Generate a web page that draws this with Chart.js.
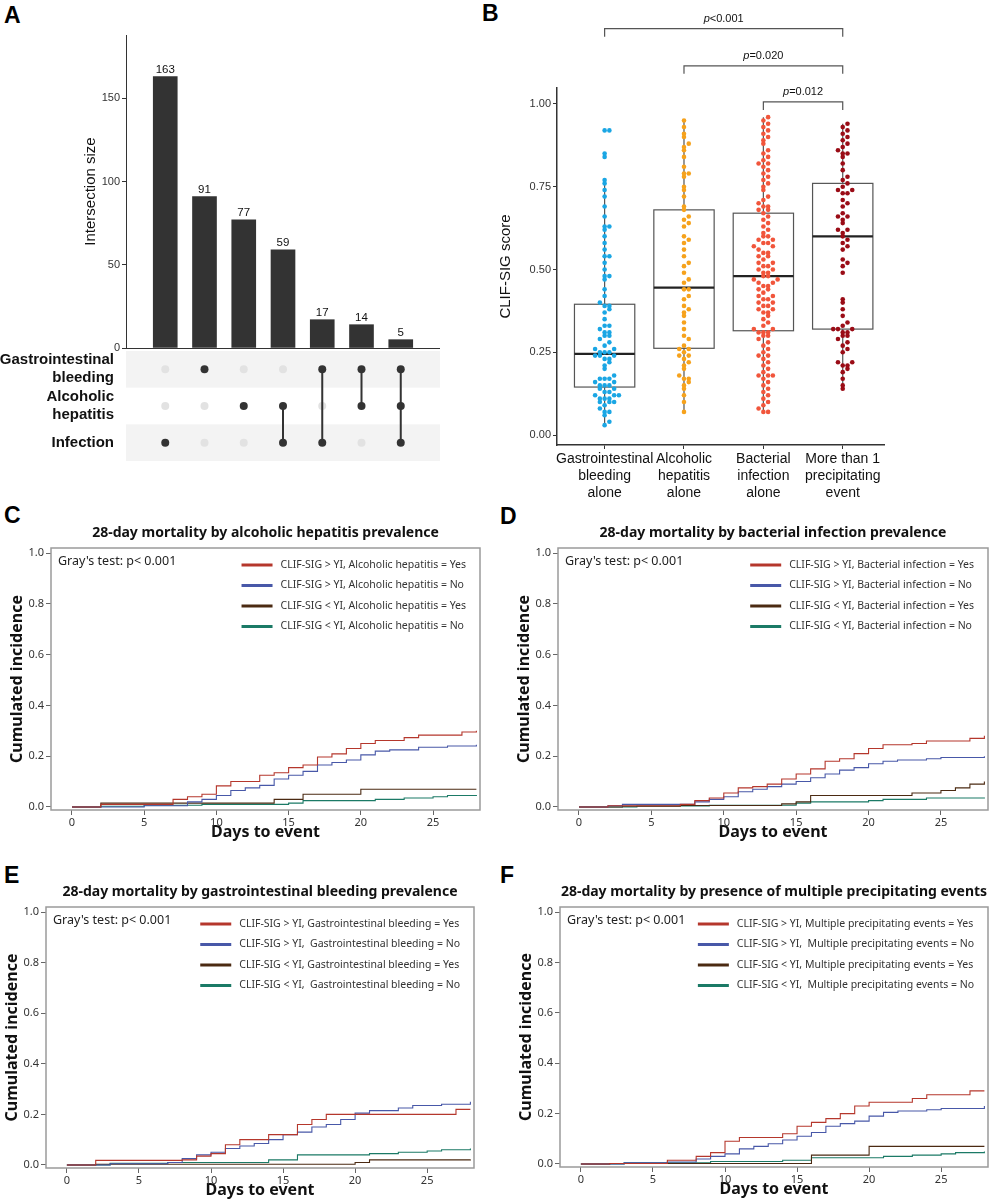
<!DOCTYPE html>
<html><head><meta charset="utf-8">
<script src="https://cdn.jsdelivr.net/npm/chart.js@4.4.1/dist/chart.umd.min.js"></script>
<style>
body{margin:0;background:#fff;width:989px;height:1200px;position:relative;overflow:hidden}
canvas{position:absolute;left:0;top:0}
.lab{position:absolute;font:bold 23px "Liberation Sans",Arial,sans-serif;color:#000}
</style></head><body>
<div class="lab" style="left:4px;top:2px">A</div>
<div class="lab" style="left:482px;top:0px">B</div>
<div class="lab" style="left:4px;top:502px">C</div>
<div class="lab" style="left:500px;top:503px">D</div>
<div class="lab" style="left:4px;top:862px">E</div>
<div class="lab" style="left:500px;top:862px">F</div>
<script>
// ---------- DATA ----------
const upsetSizes = [163, 91, 77, 59, 17, 14, 5];
const upsetSets = ["Gastrointestinal\nbleeding", "Alcoholic\nhepatitis", "Infection"];
// membership per column: rows 0=GI,1=AH,2=Infection
const upsetMembers = [[2],[0],[1],[1,2],[0,2],[0,1],[0,1,2]];
const upsetTicks = [0, 50, 100, 150];

const boxCategories = [["Gastrointestinal","bleeding","alone"],["Alcoholic","hepatitis","alone"],["Bacterial","infection","alone"],["More than 1","precipitating","event"]];
const boxQ1 = [0.145, 0.262, 0.315, 0.32];
const boxMedian = [0.245, 0.445, 0.48, 0.60];
const boxQ3 = [0.395, 0.68, 0.67, 0.76];
const boxWhiskLo = [0.03, 0.07, 0.07, 0.14];
const boxWhiskHi = [0.77, 0.95, 0.96, 0.94];
const boxTicks = [0, 0.25, 0.5, 0.75, 1.0];
const ptsGI = [0.03,0.04,0.06,0.07,0.07,0.08,0.09,0.10,0.10,0.10,0.11,0.11,0.11,0.12,0.12,0.12,0.13,0.13,0.14,0.14,0.15,0.15,0.15,0.16,0.16,0.17,0.17,0.17,0.18,0.20,0.21,0.22,0.23,0.23,0.24,0.24,0.24,0.25,0.25,0.25,0.26,0.26,0.27,0.28,0.29,0.30,0.30,0.31,0.31,0.32,0.33,0.33,0.35,0.37,0.38,0.39,0.39,0.40,0.42,0.44,0.47,0.48,0.48,0.50,0.52,0.54,0.54,0.56,0.58,0.60,0.62,0.63,0.63,0.66,0.69,0.72,0.74,0.76,0.77,0.84,0.85,0.92,0.92];
const ptsAH = [0.07,0.10,0.12,0.14,0.15,0.16,0.17,0.17,0.18,0.20,0.21,0.22,0.23,0.24,0.24,0.25,0.26,0.26,0.27,0.29,0.30,0.32,0.34,0.36,0.37,0.38,0.39,0.41,0.42,0.44,0.44,0.46,0.47,0.49,0.51,0.52,0.54,0.56,0.58,0.59,0.60,0.63,0.64,0.65,0.66,0.68,0.69,0.72,0.74,0.75,0.78,0.79,0.79,0.81,0.84,0.86,0.87,0.88,0.90,0.91,0.93,0.95];
const ptsBI = [0.07,0.07,0.08,0.09,0.10,0.11,0.12,0.13,0.14,0.15,0.16,0.17,0.18,0.18,0.18,0.19,0.20,0.21,0.22,0.23,0.24,0.24,0.25,0.26,0.27,0.28,0.29,0.30,0.30,0.31,0.31,0.31,0.32,0.32,0.33,0.34,0.35,0.36,0.37,0.37,0.38,0.38,0.39,0.39,0.40,0.40,0.41,0.41,0.42,0.42,0.43,0.44,0.44,0.45,0.45,0.46,0.46,0.47,0.47,0.48,0.48,0.49,0.49,0.50,0.50,0.51,0.51,0.52,0.52,0.53,0.54,0.54,0.55,0.55,0.56,0.57,0.57,0.58,0.58,0.59,0.59,0.60,0.60,0.61,0.62,0.63,0.64,0.65,0.66,0.67,0.68,0.68,0.69,0.69,0.70,0.71,0.72,0.74,0.75,0.76,0.77,0.78,0.79,0.80,0.81,0.82,0.82,0.83,0.84,0.85,0.86,0.88,0.89,0.90,0.91,0.92,0.93,0.94,0.95,0.96];
const ptsMulti = [0.14,0.15,0.17,0.19,0.20,0.21,0.21,0.22,0.22,0.25,0.26,0.27,0.28,0.29,0.30,0.30,0.31,0.31,0.32,0.32,0.32,0.33,0.34,0.36,0.38,0.40,0.41,0.49,0.51,0.52,0.53,0.56,0.57,0.58,0.59,0.60,0.61,0.62,0.62,0.64,0.65,0.66,0.66,0.67,0.69,0.70,0.71,0.73,0.73,0.74,0.74,0.75,0.76,0.77,0.78,0.80,0.82,0.84,0.85,0.85,0.86,0.87,0.88,0.89,0.90,0.91,0.92,0.93,0.94];
const pLabels = ["<0.001", "=0.020", "=0.012"];
const pFrom = [0, 1, 2], pTo = [3, 3, 3];
const pLevel = [1.227, 1.115, 1.006];

const kmDays = [0, 5, 10, 15, 20, 25];
const kmTicks = [0, 0.2, 0.4, 0.6, 0.8, 1.0];
// [day, cumulative incidence] at each step
const C_red   = [[2,0.01],[7,0.03],[8,0.04],[9,0.05],[10,0.083],[11,0.10],[13,0.125],[14,0.135],[15,0.155],[16,0.165],[17,0.197],[18,0.209],[19,0.23],[20,0.25],[21,0.262],[23,0.273],[24,0.283],[27,0.295],[28,0.30]];
const C_blue  = [[5,0.005],[8,0.02],[9,0.03],[10,0.045],[11,0.065],[12,0.075],[13,0.085],[14,0.11],[15,0.125],[16,0.14],[17,0.165],[18,0.175],[19,0.185],[20,0.205],[21,0.22],[22,0.225],[24,0.235],[26,0.24],[28,0.245]];
const C_brown = [[2,0.015],[14,0.03],[16,0.05],[20,0.07],[28,0.07]];
const C_green = [[2,0.003],[5,0.007],[9,0.01],[15,0.015],[16,0.025],[21,0.03],[23,0.035],[25,0.04],[26,0.045],[28,0.047]];
const D_red   = [[2,0.005],[7,0.01],[8,0.025],[9,0.035],[10,0.055],[11,0.075],[12,0.08],[13,0.09],[14,0.11],[15,0.13],[16,0.15],[17,0.18],[18,0.19],[19,0.21],[20,0.23],[21,0.245],[23,0.25],[24,0.26],[27,0.27],[28,0.28]];
const D_blue  = [[2,0.005],[3,0.01],[8,0.02],[9,0.03],[10,0.04],[11,0.06],[12,0.07],[13,0.08],[14,0.09],[15,0.10],[16,0.115],[17,0.13],[18,0.145],[19,0.155],[20,0.17],[21,0.18],[22,0.185],[24,0.19],[25,0.195],[28,0.20]];
const D_brown = [[3,0.003],[7,0.006],[14,0.012],[15,0.02],[16,0.045],[23,0.055],[25,0.065],[26,0.075],[27,0.09],[28,0.10]];
const D_green = [[4,0.004],[9,0.007],[15,0.015],[16,0.02],[20,0.025],[21,0.03],[24,0.035],[28,0.037]];
const E_red   = [[2,0.018],[8,0.02],[9,0.035],[10,0.045],[11,0.08],[12,0.10],[14,0.12],[16,0.16],[17,0.18],[18,0.20],[27,0.22],[28,0.22]];
const E_blue  = [[3,0.005],[7,0.01],[8,0.025],[9,0.04],[10,0.05],[11,0.065],[12,0.075],[13,0.085],[14,0.10],[15,0.12],[16,0.13],[17,0.15],[18,0.16],[19,0.18],[20,0.205],[21,0.215],[23,0.225],[24,0.235],[26,0.24],[28,0.25]];
const E_brown = [[2,0.003],[20,0.01],[21,0.02],[28,0.022]];
const E_green = [[3,0.007],[7,0.01],[14,0.02],[16,0.04],[21,0.045],[23,0.05],[25,0.055],[26,0.06],[28,0.065]];
const F_red   = [[2,0.002],[6,0.015],[8,0.03],[9,0.045],[10,0.09],[11,0.105],[14,0.12],[15,0.15],[16,0.165],[17,0.18],[18,0.20],[19,0.23],[20,0.245],[23,0.26],[24,0.275],[27,0.29],[28,0.29]];
const F_blue  = [[3,0.005],[6,0.008],[8,0.02],[9,0.03],[10,0.04],[11,0.06],[12,0.07],[13,0.08],[14,0.095],[15,0.11],[16,0.125],[17,0.15],[18,0.16],[19,0.17],[20,0.19],[21,0.205],[22,0.21],[24,0.215],[25,0.22],[28,0.23]];
const F_brown = [[2,0.002],[16,0.035],[20,0.07],[28,0.07]];
const F_green = [[3,0.005],[9,0.01],[14,0.015],[16,0.025],[21,0.03],[23,0.035],[25,0.04],[26,0.045],[28,0.05]];
const kmTitles = ["28-day mortality by alcoholic hepatitis prevalence","28-day mortality by bacterial infection prevalence","28-day mortality by gastrointestinal bleeding prevalence","28-day mortality by presence of multiple precipitating events"];
const kmLegends = [
 ["CLIF-SIG > YI, Alcoholic hepatitis = Yes","CLIF-SIG > YI, Alcoholic hepatitis = No","CLIF-SIG < YI, Alcoholic hepatitis = Yes","CLIF-SIG < YI, Alcoholic hepatitis = No"],
 ["CLIF-SIG > YI, Bacterial infection = Yes","CLIF-SIG > YI, Bacterial infection = No","CLIF-SIG < YI, Bacterial infection = Yes","CLIF-SIG < YI, Bacterial infection = No"],
 ["CLIF-SIG > YI, Gastrointestinal bleeding = Yes","CLIF-SIG > YI,  Gastrointestinal bleeding = No","CLIF-SIG < YI, Gastrointestinal bleeding = Yes","CLIF-SIG < YI,  Gastrointestinal bleeding = No"],
 ["CLIF-SIG > YI, Multiple precipitating events = Yes","CLIF-SIG > YI,  Multiple precipitating events = No","CLIF-SIG < YI, Multiple precipitating events = Yes","CLIF-SIG < YI,  Multiple precipitating events = No"]];
const grayText = "Gray's test: p< 0.001";

// ---------- HELPERS ----------
const PW = 989, PH = 1200;
const ARIAL = '"Liberation Sans", Arial, sans-serif';
const NOTO = '"Noto Sans", "Open Sans", sans-serif';
function make(cfg, area, yW, xH) {
  const c = document.createElement('canvas');
  c.width = PW; c.height = PH; c.style.width = PW + 'px'; c.style.height = PH + 'px';
  document.body.appendChild(c);
  cfg.options = cfg.options || {};
  Object.assign(cfg.options, {responsive:false, animation:false, devicePixelRatio:1,
    layout:{padding:{left:area.l - yW, top:area.t, right:PW - area.r, bottom:PH - area.b - xH}}});
  cfg.options.plugins = Object.assign({legend:{display:false}, title:{display:false}, tooltip:{enabled:false}}, cfg.options.plugins || {});
  const sc = cfg.options.scales;
  if (sc.y) sc.y.afterFit = s => { s.width = yW; };
  if (sc.x) sc.x.afterFit = s => { s.height = xH; };
  return new Chart(c, cfg);
}
const setTicks = arr => s => { s.ticks = arr.map(v => ({value: v})); };

// ---------- PANEL A: bars ----------
make({
  type:'bar',
  data:{datasets:[{data:upsetSizes.map((v,i)=>({x:i,y:v})), backgroundColor:'#333', barThickness:24}]},
  options:{
    scales:{
      x:{type:'linear', min:-1, max:7, offset:false, display:false},
      y:{min:0, max:188, afterBuildTicks:setTicks(upsetTicks),
         ticks:{font:{family:ARIAL,size:11}, color:'#333', padding:2},
         grid:{drawOnChartArea:false, tickLength:4, color:'#333'},
         border:{color:'#333', width:1},
         title:{display:true, text:'Intersection size', font:{family:ARIAL,size:15}, color:'#111', padding:0}}
    }
  },
  plugins:[{id:'vals', afterDatasetsDraw(ch){
    const ctx = ch.ctx, m = ch.getDatasetMeta(0);
    ctx.save(); ctx.font = '11.5px ' + ARIAL; ctx.fillStyle = '#111'; ctx.textAlign = 'center'; ctx.textBaseline = 'bottom';
    m.data.forEach((b,i)=>ctx.fillText(String(upsetSizes[i]), b.x, b.y - 1));
    ctx.strokeStyle = '#333'; ctx.lineWidth = 1; ctx.beginPath();
    ctx.moveTo(ch.chartArea.left, ch.chartArea.bottom + 0.5); ctx.lineTo(ch.chartArea.right, ch.chartArea.bottom + 0.5); ctx.stroke();
    ctx.restore();
  }}]
}, {l:126, r:440, t:35, b:348}, 44, 0);

// ---------- PANEL A: matrix ----------
(function(){
  const pts = [], cols = [];
  upsetMembers.forEach((mem, i) => {
    for (let r = 0; r < 3; r++) { pts.push({x:i, y:r}); cols.push(mem.includes(r) ? '#333' : '#e2e2e2'); }
  });
  const lines = upsetMembers.filter(m => m.length > 1).map(m => {
    const i = upsetMembers.indexOf(m);
    return {type:'line', data:[{x:i,y:Math.min(...m)},{x:i,y:Math.max(...m)}], borderColor:'#333', borderWidth:2, pointRadius:0};
  });
  make({
    type:'scatter',
    data:{datasets:[...lines, {data:pts, pointRadius:4, pointBackgroundColor:cols, pointBorderWidth:0}]},
    options:{
      scales:{
        x:{type:'linear', min:-1, max:7, display:false},
        y:{type:'linear', min:-0.5, max:2.5, reverse:true, afterBuildTicks:setTicks([0,1,2]),
           ticks:{callback:v=>upsetSets[v].split('\n'), font:{family:ARIAL,size:15,weight:'bold'}, color:'#111', padding:4, crossAlign:'near'},
           grid:{display:false}, border:{display:false}}
      }
    },
    plugins:[{id:'bands', beforeDatasetsDraw(ch){
      const ctx = ch.ctx, a = ch.chartArea, y = ch.scales.y;
      ctx.save(); ctx.fillStyle = '#f3f3f3';
      [0,2].forEach(r => { const t = y.getPixelForValue(r - 0.5), b = y.getPixelForValue(r + 0.5); ctx.fillRect(a.left, t, a.right - a.left, b - t); });
      ctx.restore();
    }}]
  }, {l:126, r:440, t:351, b:461}, 126, 0);
})();

// ---------- PANEL B ----------
(function(){
  const groups = [ptsGI, ptsAH, ptsBI, ptsMulti];
  const colors = ['#1aa6e4', '#f6a21c', '#f1553b', '#9a0c16'];
  const ds = groups.map((g, i) => {
    const bins = {};
    const data = g.map(v => {
      const k = Math.round(v / 0.02); const n = bins[k] = (bins[k] || 0) + 1;
      const step = Math.floor(n / 2) * (n % 2 === 0 ? 1 : -1);
      return {x: i + step * 0.06, y: v};
    });
    return {data, pointRadius:2.3, pointBackgroundColor:colors[i], pointBorderWidth:0};
  });
  make({
    type:'scatter',
    data:{datasets:ds},
    options:{
      scales:{
        x:{type:'linear', min:-0.6, max:3.52, afterBuildTicks:setTicks([0,1,2,3]),
           ticks:{callback:v=>boxCategories[v], font:{family:ARIAL,size:14}, color:'#111', padding:2, maxRotation:0, autoSkip:false},
           grid:{drawOnChartArea:false, tickLength:4, color:'#333'}, border:{color:'#333', width:1.5}},
        y:{min:-0.03, max:1.048, afterBuildTicks:setTicks(boxTicks),
           ticks:{callback:v=>v.toFixed(2), font:{family:ARIAL,size:11}, color:'#333', padding:2},
           grid:{drawOnChartArea:false, tickLength:4, color:'#333'}, border:{color:'#333', width:1.5},
           title:{display:true, text:'CLIF-SIG score', font:{family:ARIAL,size:15}, color:'#111', padding:0}}
      }
    },
    plugins:[{id:'box', beforeDatasetsDraw(ch){
      const ctx = ch.ctx, x = ch.scales.x, y = ch.scales.y;
      ctx.save();
      for (let i = 0; i < 4; i++) {
        const cx = x.getPixelForValue(i), hw = x.getPixelForValue(i + 0.38) - cx;
        ctx.strokeStyle = '#555'; ctx.lineWidth = 1.2;
        ctx.beginPath();
        ctx.moveTo(cx, y.getPixelForValue(boxWhiskLo[i])); ctx.lineTo(cx, y.getPixelForValue(boxQ1[i]));
        ctx.moveTo(cx, y.getPixelForValue(boxQ3[i])); ctx.lineTo(cx, y.getPixelForValue(boxWhiskHi[i]));
        ctx.stroke();
        const t = y.getPixelForValue(boxQ3[i]), b = y.getPixelForValue(boxQ1[i]);
        ctx.strokeRect(cx - hw, t, 2 * hw, b - t);
        ctx.strokeStyle = '#222'; ctx.lineWidth = 2.2; ctx.beginPath();
        const m = y.getPixelForValue(boxMedian[i]); ctx.moveTo(cx - hw, m); ctx.lineTo(cx + hw, m); ctx.stroke();
      }
      ctx.restore();
    }, afterDraw(ch){
      const ctx = ch.ctx, x = ch.scales.x, y = ch.scales.y;
      ctx.save(); ctx.strokeStyle = '#555'; ctx.lineWidth = 1.2;
      for (let k = 0; k < 3; k++) {
        const x1 = x.getPixelForValue(pFrom[k]), x2 = x.getPixelForValue(pTo[k]), yy = y.getPixelForValue(pLevel[k]);
        ctx.beginPath(); ctx.moveTo(x1, yy + 8); ctx.lineTo(x1, yy); ctx.lineTo(x2, yy); ctx.lineTo(x2, yy + 8); ctx.stroke();
        ctx.fillStyle = '#111'; ctx.textBaseline = 'bottom';
        ctx.font = 'italic 11px ' + ARIAL; const wp = ctx.measureText('p').width;
        ctx.font = '11px ' + ARIAL; const wr = ctx.measureText(pLabels[k]).width;
        const sx = (x1 + x2) / 2 - (wp + wr) / 2;
        ctx.font = 'italic 11px ' + ARIAL; ctx.textAlign = 'left'; ctx.fillText('p', sx, yy - 4);
        ctx.font = '11px ' + ARIAL; ctx.fillText(pLabels[k], sx + wp, yy - 4);
      }
      ctx.restore();
    }}]
  }, {l:557, r:884, t:88, b:445}, 60, 55);
})();

// ---------- PANELS C-F ----------
const kmColors = ['#b5372c', '#4858a8', '#4b2a12', '#1b7a66'];
function km(series, title, legend, area) {
  const ds = series.map((s, i) => ({
    type:'line', data:[{x:0,y:0}, ...s.map(p => ({x:p[0], y:p[1]}))],
    borderColor:kmColors[i], borderWidth:1.1, pointRadius:0, stepped:true, fill:false
  }));
  make({
    type:'line',
    data:{datasets:ds},
    options:{
      scales:{
        x:{type:'linear', min:-1.45, max:28.25, afterBuildTicks:setTicks(kmDays),
           ticks:{font:{family:NOTO,size:11}, color:'#333', padding:1},
           grid:{drawOnChartArea:false, tickLength:5, color:'#666'}, border:{display:false},
           title:{display:true, text:'Days to event', font:{family:NOTO,size:16,weight:'bold'}, color:'#111', padding:{top:-5,bottom:0}}},
        y:{min:-0.012, max:1.02, afterBuildTicks:setTicks(kmTicks),
           ticks:{callback:v=>v.toFixed(1), font:{family:NOTO,size:11}, color:'#333', padding:2},
           grid:{drawOnChartArea:false, tickLength:5, color:'#666'}, border:{display:false},
           title:{display:true, text:'Cumulated incidence', font:{family:NOTO,size:16,weight:'bold'}, color:'#111', padding:{top:2,bottom:0}}}
      }
    },
    plugins:[{id:'deco', afterDraw(ch){
      const ctx = ch.ctx, a = ch.chartArea;
      ctx.save();
      ctx.strokeStyle = '#9a9a9a'; ctx.lineWidth = 1.5; ctx.strokeRect(a.left, a.top, a.right - a.left, a.bottom - a.top);
      ctx.fillStyle = '#111'; ctx.font = 'bold 14px ' + NOTO; ctx.textAlign = 'center'; ctx.textBaseline = 'middle';
      ctx.fillText(title, (a.left + a.right) / 2, a.top - 15);
      ctx.font = '12.5px ' + NOTO; ctx.textAlign = 'left'; ctx.fillStyle = '#222';
      ctx.fillText(grayText, a.left + 7, a.top + 13);
      ctx.font = '10.5px ' + NOTO;
      const mw = Math.max(...legend.map(t => ctx.measureText(t).width));
      const tx = a.right - 14 - mw;
      legend.forEach((t, i) => {
        const yy = a.top + 17 + i * 20.5;
        ctx.strokeStyle = kmColors[i]; ctx.lineWidth = 3; ctx.beginPath(); ctx.moveTo(tx - 39, yy); ctx.lineTo(tx - 8, yy); ctx.stroke();
        ctx.fillStyle = '#333'; ctx.fillText(t, tx, yy);
      });
      ctx.restore();
    }}]
  }, area, 45, 32);
}
km([C_red, C_blue, C_brown, C_green], kmTitles[0], kmLegends[0], {l:51, r:480, t:548, b:810});
km([D_red, D_blue, D_brown, D_green], kmTitles[1], kmLegends[1], {l:558, r:988, t:548, b:810});
km([E_red, E_blue, E_brown, E_green], kmTitles[2], kmLegends[2], {l:46, r:474, t:907, b:1168});
km([F_red, F_blue, F_brown, F_green], kmTitles[3], kmLegends[3], {l:560, r:988, t:907, b:1167});
</script>
</body></html>
